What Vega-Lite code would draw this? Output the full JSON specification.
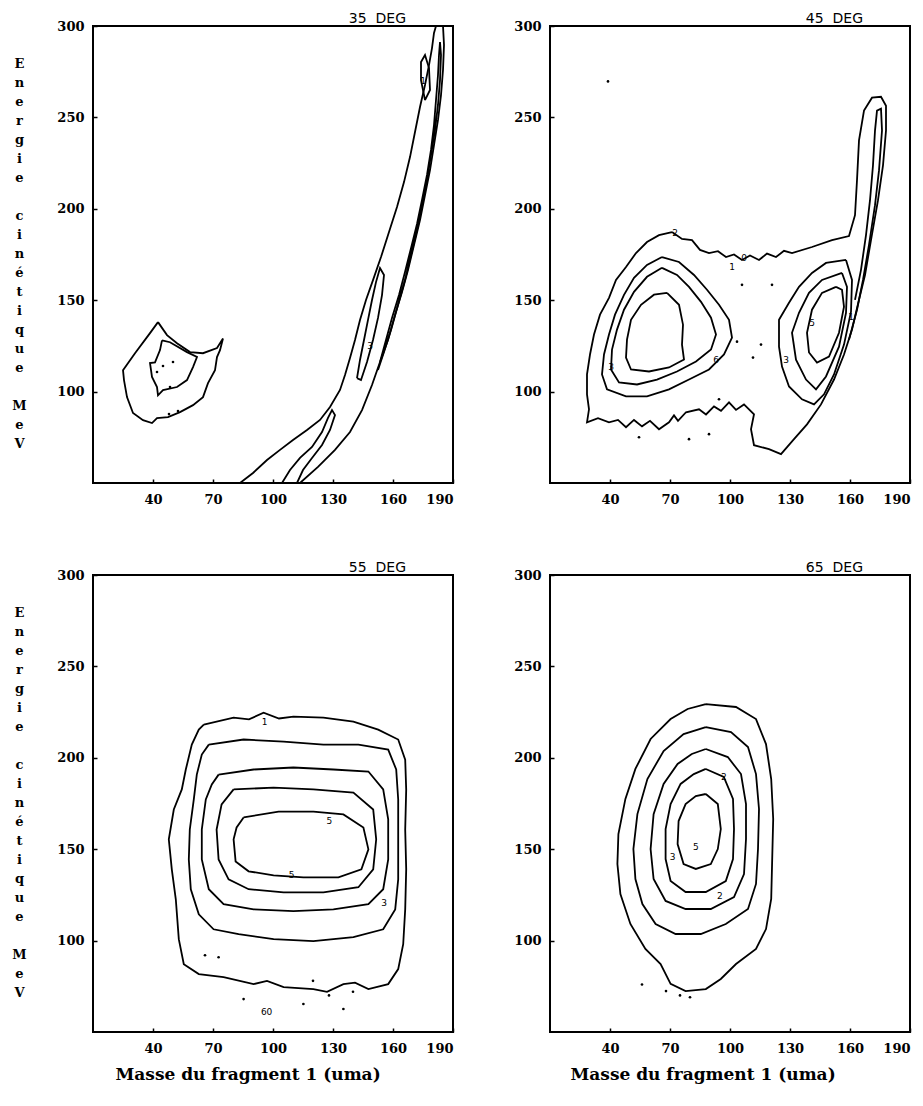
{
"$schema":"https://vega.github.io/schema/vega-lite/v6.json",
"background":"white",
"padding":{"left":10,"top":11,"right":5,"bottom":5},
"config":{
 "view":{"stroke":"black","strokeWidth":2},
 "axis":{"grid":false,"domain":false,"tickColor":"black","tickWidth":1.5,"tickSize":-4,"labelColor":"black","labelFont":"DejaVu Serif","labelFontWeight":"bold","labelFontSize":13,"titleColor":"black","titleFont":"DejaVu Serif","titleFontWeight":"bold"},
 "axisX":{"labelPadding":14},
 "axisY":{"labelPadding":13},
 "title":{"font":"DejaVu Sans","fontSize":14,"fontWeight":"normal","anchor":"end","frame":"group","dx":-47,"offset":-6,"color":"black"}
},
"datasets":{
"lines":[
{"p":"35","c":"i1","x":42.5,"y":138},{"p":"35","c":"i1","x":38.5,"y":132},{"p":"35","c":"i1","x":31,"y":121},{"p":"35","c":"i1","x":25,"y":111.7},{"p":"35","c":"i1","x":25.5,"y":106.3},{"p":"35","c":"i1","x":27,"y":97},{"p":"35","c":"i1","x":30,"y":88.3},{"p":"35","c":"i1","x":35,"y":84.4},{"p":"35","c":"i1","x":39.5,"y":82.8},{"p":"35","c":"i1","x":42,"y":85.5},{"p":"35","c":"i1","x":47.5,"y":86},{"p":"35","c":"i1","x":53.5,"y":88.8},{"p":"35","c":"i1","x":60,"y":92.6},{"p":"35","c":"i1","x":65,"y":97},{"p":"35","c":"i1","x":67.5,"y":104.6},{"p":"35","c":"i1","x":71,"y":111.7},{"p":"35","c":"i1","x":72,"y":118.9},{"p":"35","c":"i1","x":73.5,"y":122.7},{"p":"35","c":"i1","x":75,"y":129},{"p":"35","c":"i1","x":72,"y":123.8},{"p":"35","c":"i1","x":65,"y":121},{"p":"35","c":"i1","x":58.5,"y":121.6},{"p":"35","c":"i1","x":52,"y":126.5},{"p":"35","c":"i1","x":47,"y":130.9},{"p":"35","c":"i1","x":42.5,"y":138},
{"p":"35","c":"i2","x":44.5,"y":128},{"p":"35","c":"i2","x":48.5,"y":127},{"p":"35","c":"i2","x":57,"y":121.6},{"p":"35","c":"i2","x":62,"y":118.9},{"p":"35","c":"i2","x":60,"y":113.4},{"p":"35","c":"i2","x":57,"y":106.3},{"p":"35","c":"i2","x":52,"y":102.5},{"p":"35","c":"i2","x":45,"y":100.8},{"p":"35","c":"i2","x":42.5,"y":98},{"p":"35","c":"i2","x":42,"y":102.5},{"p":"35","c":"i2","x":39.5,"y":108},{"p":"35","c":"i2","x":38.5,"y":115.6},{"p":"35","c":"i2","x":41,"y":116},{"p":"35","c":"i2","x":43.5,"y":122.7},{"p":"35","c":"i2","x":44.5,"y":128},
{"p":"35","c":"b1","x":83.5,"y":50},{"p":"35","c":"b1","x":90,"y":55.5},{"p":"35","c":"b1","x":97,"y":62.6},{"p":"35","c":"b1","x":103.5,"y":68.1},{"p":"35","c":"b1","x":110,"y":73.5},{"p":"35","c":"b1","x":117,"y":79},{"p":"35","c":"b1","x":123.5,"y":84.5},{"p":"35","c":"b1","x":128.5,"y":91.6},{"p":"35","c":"b1","x":133.5,"y":100.9},{"p":"35","c":"b1","x":136,"y":109.1},{"p":"35","c":"b1","x":138.5,"y":118.4},{"p":"35","c":"b1","x":141,"y":128.2},{"p":"35","c":"b1","x":143.5,"y":139.2},{"p":"35","c":"b1","x":146.5,"y":150.1},{"p":"35","c":"b1","x":150,"y":161},{"p":"35","c":"b1","x":154,"y":173.6},{"p":"35","c":"b1","x":158,"y":187.3},{"p":"35","c":"b1","x":162,"y":201},{"p":"35","c":"b1","x":165.5,"y":214.6},{"p":"35","c":"b1","x":168.5,"y":228.3},{"p":"35","c":"b1","x":171,"y":242},{"p":"35","c":"b1","x":173.5,"y":255.7},{"p":"35","c":"b1","x":176,"y":267.7},{"p":"35","c":"b1","x":178,"y":278.6},{"p":"35","c":"b1","x":179.5,"y":287.9},{"p":"35","c":"b1","x":180.5,"y":296.2},{"p":"35","c":"b1","x":181.5,"y":300},{"p":"35","c":"b1","x":185,"y":300},{"p":"35","c":"b1","x":185.5,"y":289.6},{"p":"35","c":"b1","x":185,"y":275.9},{"p":"35","c":"b1","x":184,"y":262.2},{"p":"35","c":"b1","x":182.5,"y":248.6},{"p":"35","c":"b1","x":180.5,"y":234.9},{"p":"35","c":"b1","x":178.5,"y":221.2},{"p":"35","c":"b1","x":176,"y":207.5},{"p":"35","c":"b1","x":173.5,"y":193.9},{"p":"35","c":"b1","x":170.5,"y":180.2},{"p":"35","c":"b1","x":167.5,"y":166.5},{"p":"35","c":"b1","x":164.5,"y":154.5},{"p":"35","c":"b1","x":161,"y":141.9},{"p":"35","c":"b1","x":157.5,"y":128.2},{"p":"35","c":"b1","x":153.5,"y":116.2},{"p":"35","c":"b1","x":149.5,"y":103.6},{"p":"35","c":"b1","x":144.5,"y":89.9},{"p":"35","c":"b1","x":138.5,"y":77.9},{"p":"35","c":"b1","x":131,"y":68.1},{"p":"35","c":"b1","x":122.5,"y":58.8},{"p":"35","c":"b1","x":113.5,"y":50},
{"p":"35","c":"b2","x":104.5,"y":50},{"p":"35","c":"b2","x":108.5,"y":57.1},{"p":"35","c":"b2","x":113.5,"y":63.7},{"p":"35","c":"b2","x":119.5,"y":69.7},{"p":"35","c":"b2","x":124.5,"y":77.9},{"p":"35","c":"b2","x":127.5,"y":85.6},{"p":"35","c":"b2","x":129.5,"y":89.9},{"p":"35","c":"b2","x":131,"y":87.2},{"p":"35","c":"b2","x":128.5,"y":79},{"p":"35","c":"b2","x":124.5,"y":70.8},{"p":"35","c":"b2","x":119.5,"y":63.7},{"p":"35","c":"b2","x":115,"y":57.1},{"p":"35","c":"b2","x":112,"y":50},
{"p":"35","c":"b3","x":142,"y":107.4},{"p":"35","c":"b3","x":143.5,"y":117.3},{"p":"35","c":"b3","x":145.5,"y":128.2},{"p":"35","c":"b3","x":147.5,"y":139.2},{"p":"35","c":"b3","x":149.5,"y":150.1},{"p":"35","c":"b3","x":151.5,"y":159.9},{"p":"35","c":"b3","x":153.5,"y":167.6},{"p":"35","c":"b3","x":155.5,"y":163.8},{"p":"35","c":"b3","x":154.5,"y":152.8},{"p":"35","c":"b3","x":152.5,"y":140.3},{"p":"35","c":"b3","x":150,"y":128.2},{"p":"35","c":"b3","x":147,"y":116.2},{"p":"35","c":"b3","x":144,"y":106.3},{"p":"35","c":"b3","x":142,"y":107.4},
{"p":"35","c":"b4","x":153.5,"y":116.2},{"p":"35","c":"b4","x":156.5,"y":128.2},{"p":"35","c":"b4","x":159.5,"y":140.3},{"p":"35","c":"b4","x":163,"y":152.8},{"p":"35","c":"b4","x":166,"y":165.4},{"p":"35","c":"b4","x":169,"y":178.5},{"p":"35","c":"b4","x":172,"y":191.7},{"p":"35","c":"b4","x":174.5,"y":204.8},{"p":"35","c":"b4","x":177,"y":218.5},{"p":"35","c":"b4","x":179,"y":232.2},{"p":"35","c":"b4","x":180.5,"y":245.8},{"p":"35","c":"b4","x":181.5,"y":259.5},{"p":"35","c":"b4","x":182.5,"y":273.2},{"p":"35","c":"b4","x":183,"y":284.1},{"p":"35","c":"b4","x":183.5,"y":291.2},{"p":"35","c":"b4","x":184,"y":284.1},{"p":"35","c":"b4","x":183.5,"y":270.4},{"p":"35","c":"b4","x":182.5,"y":256.8},{"p":"35","c":"b4","x":181,"y":243.1},{"p":"35","c":"b4","x":179,"y":229.4},{"p":"35","c":"b4","x":177,"y":215.7},{"p":"35","c":"b4","x":174.5,"y":202.1},{"p":"35","c":"b4","x":172,"y":188.4},{"p":"35","c":"b4","x":169,"y":174.7},{"p":"35","c":"b4","x":166,"y":161},{"p":"35","c":"b4","x":162.5,"y":147.4},{"p":"35","c":"b4","x":159,"y":133.7},{"p":"35","c":"b4","x":155.5,"y":121.7},{"p":"35","c":"b4","x":152.5,"y":111.8},
{"p":"35","c":"b5","x":176,"y":259.5},{"p":"35","c":"b5","x":174,"y":270.4},{"p":"35","c":"b5","x":174,"y":280.3},{"p":"35","c":"b5","x":176,"y":284.1},{"p":"35","c":"b5","x":178,"y":277},{"p":"35","c":"b5","x":178.5,"y":265},{"p":"35","c":"b5","x":176,"y":259.5},
{"p":"45","c":"o","x":71,"y":187.3},{"p":"45","c":"o","x":76,"y":183.5},{"p":"45","c":"o","x":81,"y":182.9},{"p":"45","c":"o","x":85,"y":177.5},{"p":"45","c":"o","x":89.5,"y":175.8},{"p":"45","c":"o","x":94,"y":176.8},{"p":"45","c":"o","x":98,"y":173.6},{"p":"45","c":"o","x":102,"y":175},{"p":"45","c":"o","x":106,"y":172},{"p":"45","c":"o","x":110,"y":174.5},{"p":"45","c":"o","x":114.5,"y":172},{"p":"45","c":"o","x":118.5,"y":175.5},{"p":"45","c":"o","x":123,"y":173.6},{"p":"45","c":"o","x":127,"y":177},{"p":"45","c":"o","x":131,"y":175.8},{"p":"45","c":"o","x":141,"y":179.1},{"p":"45","c":"o","x":151,"y":182.9},{"p":"45","c":"o","x":159.5,"y":185.1},{"p":"45","c":"o","x":162.5,"y":196.5},{"p":"45","c":"o","x":163.5,"y":215.6},{"p":"45","c":"o","x":164.5,"y":237.4},{"p":"45","c":"o","x":167,"y":253.7},{"p":"45","c":"o","x":171,"y":260.8},{"p":"45","c":"o","x":175.5,"y":261.3},{"p":"45","c":"o","x":178,"y":256.4},{"p":"45","c":"o","x":178,"y":242.8},{"p":"45","c":"o","x":176.5,"y":223.8},{"p":"45","c":"o","x":174,"y":204.7},{"p":"45","c":"o","x":170.5,"y":182.9},{"p":"45","c":"o","x":167.5,"y":163.8},{"p":"45","c":"o","x":164.5,"y":150.2},{"p":"45","c":"o","x":161,"y":133.9},{"p":"45","c":"o","x":157,"y":120.3},{"p":"45","c":"o","x":152,"y":106.6},{"p":"45","c":"o","x":145.5,"y":93},{"p":"45","c":"o","x":138.5,"y":82.1},{"p":"45","c":"o","x":132,"y":74},{"p":"45","c":"o","x":125.5,"y":65.8},{"p":"45","c":"o","x":119.5,"y":68.5},{"p":"45","c":"o","x":112,"y":70.7},{"p":"45","c":"o","x":110.5,"y":79.4},{"p":"45","c":"o","x":112,"y":87.6},{"p":"45","c":"o","x":107,"y":93},{"p":"45","c":"o","x":103,"y":90},{"p":"45","c":"o","x":99.5,"y":94.1},{"p":"45","c":"o","x":95.5,"y":89.5},{"p":"45","c":"o","x":92,"y":91.9},{"p":"45","c":"o","x":88,"y":87.5},{"p":"45","c":"o","x":84.5,"y":90.3},{"p":"45","c":"o","x":78,"y":88.7},{"p":"45","c":"o","x":74,"y":84},{"p":"45","c":"o","x":72,"y":87},{"p":"45","c":"o","x":69.5,"y":83.2},{"p":"45","c":"o","x":64.5,"y":79.4},{"p":"45","c":"o","x":60,"y":84},{"p":"45","c":"o","x":56,"y":81},{"p":"45","c":"o","x":52,"y":84.5},{"p":"45","c":"o","x":48,"y":80.5},{"p":"45","c":"o","x":44,"y":84.5},{"p":"45","c":"o","x":39.5,"y":83.2},{"p":"45","c":"o","x":34,"y":85.5},{"p":"45","c":"o","x":28.5,"y":83.2},{"p":"45","c":"o","x":29.5,"y":90.3},{"p":"45","c":"o","x":28.5,"y":98.5},{"p":"45","c":"o","x":28.5,"y":109.4},{"p":"45","c":"o","x":30,"y":120.3},{"p":"45","c":"o","x":32,"y":131.2},{"p":"45","c":"o","x":35,"y":142.1},{"p":"45","c":"o","x":39.5,"y":151.3},{"p":"45","c":"o","x":43,"y":161.1},{"p":"45","c":"o","x":48,"y":168.2},{"p":"45","c":"o","x":53,"y":175.8},{"p":"45","c":"o","x":58.5,"y":181.8},{"p":"45","c":"o","x":64.5,"y":185.6},{"p":"45","c":"o","x":71,"y":187.3},
{"p":"45","c":"la","x":66,"y":173.6},{"p":"45","c":"la","x":74.5,"y":170.9},{"p":"45","c":"la","x":82,"y":163.8},{"p":"45","c":"la","x":88.5,"y":155.7},{"p":"45","c":"la","x":94.5,"y":147.5},{"p":"45","c":"la","x":99.5,"y":139.3},{"p":"45","c":"la","x":101,"y":129.5},{"p":"45","c":"la","x":97,"y":120.3},{"p":"45","c":"la","x":89.5,"y":112.1},{"p":"45","c":"la","x":79.5,"y":106.6},{"p":"45","c":"la","x":69.5,"y":101.2},{"p":"45","c":"la","x":58.5,"y":97.4},{"p":"45","c":"la","x":48,"y":97.4},{"p":"45","c":"la","x":38.5,"y":101.2},{"p":"45","c":"la","x":36,"y":109.4},{"p":"45","c":"la","x":37,"y":120.3},{"p":"45","c":"la","x":39.5,"y":131.2},{"p":"45","c":"la","x":42.5,"y":142.1},{"p":"45","c":"la","x":47,"y":152.9},{"p":"45","c":"la","x":52,"y":162.2},{"p":"45","c":"la","x":58.5,"y":169.3},{"p":"45","c":"la","x":66,"y":173.6},
{"p":"45","c":"lb","x":66,"y":167.7},{"p":"45","c":"lb","x":73.5,"y":163.8},{"p":"45","c":"lb","x":79.5,"y":157.3},{"p":"45","c":"lb","x":85.5,"y":149.1},{"p":"45","c":"lb","x":90.5,"y":140.4},{"p":"45","c":"lb","x":93,"y":131.2},{"p":"45","c":"lb","x":90.5,"y":123},{"p":"45","c":"lb","x":83,"y":116.5},{"p":"45","c":"lb","x":73.5,"y":111},{"p":"45","c":"lb","x":63.5,"y":106.6},{"p":"45","c":"lb","x":53.5,"y":103.9},{"p":"45","c":"lb","x":44.5,"y":105},{"p":"45","c":"lb","x":40.5,"y":112.1},{"p":"45","c":"lb","x":41,"y":123},{"p":"45","c":"lb","x":43.5,"y":133.9},{"p":"45","c":"lb","x":47,"y":144.8},{"p":"45","c":"lb","x":52,"y":154.6},{"p":"45","c":"lb","x":58.5,"y":162.8},{"p":"45","c":"lb","x":66,"y":167.7},
{"p":"45","c":"lc","x":68.5,"y":154},{"p":"45","c":"lc","x":74.5,"y":147.5},{"p":"45","c":"lc","x":76.5,"y":136.6},{"p":"45","c":"lc","x":76,"y":125.7},{"p":"45","c":"lc","x":77,"y":117.5},{"p":"45","c":"lc","x":69.5,"y":113.2},{"p":"45","c":"lc","x":59.5,"y":111},{"p":"45","c":"lc","x":50.5,"y":112.1},{"p":"45","c":"lc","x":48,"y":118.6},{"p":"45","c":"lc","x":48.5,"y":128.4},{"p":"45","c":"lc","x":50.5,"y":139.3},{"p":"45","c":"lc","x":55.5,"y":147.5},{"p":"45","c":"lc","x":62,"y":153},{"p":"45","c":"lc","x":68.5,"y":154},
{"p":"45","c":"ra","x":158,"y":172},{"p":"45","c":"ra","x":148,"y":170.4},{"p":"45","c":"ra","x":141,"y":164.9},{"p":"45","c":"ra","x":134.5,"y":157.3},{"p":"45","c":"ra","x":129.5,"y":148.6},{"p":"45","c":"ra","x":124.5,"y":139.3},{"p":"45","c":"ra","x":124.5,"y":124.6},{"p":"45","c":"ra","x":126,"y":113.7},{"p":"45","c":"ra","x":129.5,"y":102.8},{"p":"45","c":"ra","x":136,"y":95.8},{"p":"45","c":"ra","x":142,"y":93},{"p":"45","c":"ra","x":147,"y":98.5},{"p":"45","c":"ra","x":152,"y":109.4},{"p":"45","c":"ra","x":157,"y":125.7},{"p":"45","c":"ra","x":160.5,"y":143.7},{"p":"45","c":"ra","x":161,"y":161.1},{"p":"45","c":"ra","x":158,"y":172},
{"p":"45","c":"rb","x":156,"y":164.9},{"p":"45","c":"rb","x":146,"y":161.1},{"p":"45","c":"rb","x":139.5,"y":154},{"p":"45","c":"rb","x":134.5,"y":143.1},{"p":"45","c":"rb","x":131,"y":132.2},{"p":"45","c":"rb","x":133,"y":117.5},{"p":"45","c":"rb","x":138,"y":106.6},{"p":"45","c":"rb","x":143,"y":101.2},{"p":"45","c":"rb","x":148,"y":108.3},{"p":"45","c":"rb","x":154.5,"y":124.6},{"p":"45","c":"rb","x":158,"y":143.1},{"p":"45","c":"rb","x":158.5,"y":157.3},{"p":"45","c":"rb","x":156,"y":164.9},
{"p":"45","c":"rc","x":153,"y":157.3},{"p":"45","c":"rc","x":146,"y":154},{"p":"45","c":"rc","x":141,"y":144.8},{"p":"45","c":"rc","x":138.5,"y":132.2},{"p":"45","c":"rc","x":139.5,"y":121.4},{"p":"45","c":"rc","x":143.5,"y":115.9},{"p":"45","c":"rc","x":149.5,"y":119.2},{"p":"45","c":"rc","x":154.5,"y":132.2},{"p":"45","c":"rc","x":157,"y":146.4},{"p":"45","c":"rc","x":156,"y":155.7},{"p":"45","c":"rc","x":153,"y":157.3},
{"p":"45","c":"t","x":162.5,"y":150.2},{"p":"45","c":"t","x":165.5,"y":166.6},{"p":"45","c":"t","x":168,"y":185.6},{"p":"45","c":"t","x":170,"y":204.7},{"p":"45","c":"t","x":171.5,"y":223.8},{"p":"45","c":"t","x":172.5,"y":242.8},{"p":"45","c":"t","x":173.5,"y":253.7},{"p":"45","c":"t","x":175.5,"y":254.8},{"p":"45","c":"t","x":176,"y":242.8},{"p":"45","c":"t","x":174.5,"y":221},{"p":"45","c":"t","x":172.5,"y":202},{"p":"45","c":"t","x":169.5,"y":180.2},{"p":"45","c":"t","x":166.5,"y":161.1},{"p":"45","c":"t","x":163.5,"y":144.8},{"p":"45","c":"t","x":159.5,"y":128.4},
{"p":"55","c":"c1","x":65.4,"y":218.1},{"p":"55","c":"c1","x":80.3,"y":222},{"p":"55","c":"c1","x":88,"y":221},{"p":"55","c":"c1","x":95.3,"y":224.7},{"p":"55","c":"c1","x":103,"y":221.5},{"p":"55","c":"c1","x":110.2,"y":222.5},{"p":"55","c":"c1","x":125.2,"y":222},{"p":"55","c":"c1","x":140.2,"y":219.8},{"p":"55","c":"c1","x":152.6,"y":215.4},{"p":"55","c":"c1","x":162.6,"y":210},{"p":"55","c":"c1","x":166.1,"y":199},{"p":"55","c":"c1","x":166.6,"y":182.7},{"p":"55","c":"c1","x":166.1,"y":160.8},{"p":"55","c":"c1","x":166.6,"y":139},{"p":"55","c":"c1","x":166.1,"y":117.1},{"p":"55","c":"c1","x":165.1,"y":98},{"p":"55","c":"c1","x":162.6,"y":84.4},{"p":"55","c":"c1","x":157.6,"y":76.2},{"p":"55","c":"c1","x":147.7,"y":73.5},{"p":"55","c":"c1","x":141,"y":77},{"p":"55","c":"c1","x":135.2,"y":76.2},{"p":"55","c":"c1","x":127,"y":72},{"p":"55","c":"c1","x":120.2,"y":73.5},{"p":"55","c":"c1","x":105.3,"y":74.6},{"p":"55","c":"c1","x":97,"y":78},{"p":"55","c":"c1","x":90.3,"y":76.2},{"p":"55","c":"c1","x":75.3,"y":80},{"p":"55","c":"c1","x":62.9,"y":81.7},{"p":"55","c":"c1","x":55.4,"y":87.1},{"p":"55","c":"c1","x":52.9,"y":100.8},{"p":"55","c":"c1","x":51.4,"y":122.6},{"p":"55","c":"c1","x":49.4,"y":139},{"p":"55","c":"c1","x":47.9,"y":155.4},{"p":"55","c":"c1","x":50.4,"y":171.7},{"p":"55","c":"c1","x":54.4,"y":182.7},{"p":"55","c":"c1","x":56.4,"y":193.6},{"p":"55","c":"c1","x":59.4,"y":207.2},{"p":"55","c":"c1","x":62.9,"y":215.4},{"p":"55","c":"c1","x":65.4,"y":218.1},
{"p":"55","c":"c2","x":67.9,"y":207.2},{"p":"55","c":"c2","x":85.3,"y":210},{"p":"55","c":"c2","x":105.3,"y":208.9},{"p":"55","c":"c2","x":125.2,"y":207.2},{"p":"55","c":"c2","x":142.7,"y":207.2},{"p":"55","c":"c2","x":157.6,"y":204.5},{"p":"55","c":"c2","x":161.6,"y":193.6},{"p":"55","c":"c2","x":162.6,"y":177.2},{"p":"55","c":"c2","x":162.6,"y":155.4},{"p":"55","c":"c2","x":162.6,"y":133.5},{"p":"55","c":"c2","x":161.1,"y":117.1},{"p":"55","c":"c2","x":155.1,"y":106.2},{"p":"55","c":"c2","x":140.2,"y":101.9},{"p":"55","c":"c2","x":120.2,"y":99.7},{"p":"55","c":"c2","x":100.3,"y":100.8},{"p":"55","c":"c2","x":82.8,"y":103.5},{"p":"55","c":"c2","x":70.3,"y":106.2},{"p":"55","c":"c2","x":62.9,"y":114.4},{"p":"55","c":"c2","x":58.9,"y":128.1},{"p":"55","c":"c2","x":57.9,"y":144.4},{"p":"55","c":"c2","x":58.4,"y":160.8},{"p":"55","c":"c2","x":60.4,"y":177.2},{"p":"55","c":"c2","x":61.9,"y":190.8},{"p":"55","c":"c2","x":64.4,"y":201.8},{"p":"55","c":"c2","x":67.9,"y":207.2},
{"p":"55","c":"c3","x":72.8,"y":190.8},{"p":"55","c":"c3","x":90.3,"y":193.6},{"p":"55","c":"c3","x":110.2,"y":194.7},{"p":"55","c":"c3","x":130.2,"y":193.6},{"p":"55","c":"c3","x":147.7,"y":192.5},{"p":"55","c":"c3","x":155.1,"y":182.7},{"p":"55","c":"c3","x":157.6,"y":166.3},{"p":"55","c":"c3","x":157.6,"y":144.4},{"p":"55","c":"c3","x":155.1,"y":128.1},{"p":"55","c":"c3","x":147.7,"y":119.9},{"p":"55","c":"c3","x":130.2,"y":117.1},{"p":"55","c":"c3","x":110.2,"y":116.1},{"p":"55","c":"c3","x":90.3,"y":117.1},{"p":"55","c":"c3","x":75.3,"y":119.9},{"p":"55","c":"c3","x":67.9,"y":128.1},{"p":"55","c":"c3","x":64.4,"y":144.4},{"p":"55","c":"c3","x":64.4,"y":160.8},{"p":"55","c":"c3","x":66.4,"y":177.2},{"p":"55","c":"c3","x":69.4,"y":185.4},{"p":"55","c":"c3","x":72.8,"y":190.8},
{"p":"55","c":"c4","x":80.3,"y":182.7},{"p":"55","c":"c4","x":100.3,"y":183.7},{"p":"55","c":"c4","x":120.2,"y":182.7},{"p":"55","c":"c4","x":140.2,"y":181},{"p":"55","c":"c4","x":150.1,"y":171.7},{"p":"55","c":"c4","x":151.6,"y":155.4},{"p":"55","c":"c4","x":150.1,"y":139},{"p":"55","c":"c4","x":142.7,"y":129.2},{"p":"55","c":"c4","x":125.2,"y":126.4},{"p":"55","c":"c4","x":105.3,"y":126.4},{"p":"55","c":"c4","x":87.8,"y":128.1},{"p":"55","c":"c4","x":77.8,"y":133.5},{"p":"55","c":"c4","x":72.8,"y":144.4},{"p":"55","c":"c4","x":71.8,"y":160.8},{"p":"55","c":"c4","x":74.3,"y":174.5},{"p":"55","c":"c4","x":80.3,"y":182.7},
{"p":"55","c":"c5","x":85.3,"y":167.4},{"p":"55","c":"c5","x":102.8,"y":170.6},{"p":"55","c":"c5","x":120.2,"y":170.6},{"p":"55","c":"c5","x":135.2,"y":169},{"p":"55","c":"c5","x":145.2,"y":161.9},{"p":"55","c":"c5","x":147.7,"y":149.9},{"p":"55","c":"c5","x":144.2,"y":139},{"p":"55","c":"c5","x":132.7,"y":134.6},{"p":"55","c":"c5","x":115.2,"y":134.6},{"p":"55","c":"c5","x":100.3,"y":135.7},{"p":"55","c":"c5","x":87.8,"y":137.9},{"p":"55","c":"c5","x":81.3,"y":143.3},{"p":"55","c":"c5","x":80.3,"y":155.4},{"p":"55","c":"c5","x":81.8,"y":161.9},{"p":"55","c":"c5","x":85.3,"y":167.4},
{"p":"65","c":"c1","x":87.9,"y":229.4},{"p":"65","c":"c1","x":103,"y":227.8},{"p":"65","c":"c1","x":113,"y":221.2},{"p":"65","c":"c1","x":118,"y":207.5},{"p":"65","c":"c1","x":120.6,"y":188.4},{"p":"65","c":"c1","x":121.6,"y":166.5},{"p":"65","c":"c1","x":121.1,"y":144.6},{"p":"65","c":"c1","x":120.6,"y":122.8},{"p":"65","c":"c1","x":118,"y":106.3},{"p":"65","c":"c1","x":113,"y":95.4},{"p":"65","c":"c1","x":103,"y":87.2},{"p":"65","c":"c1","x":95.4,"y":79},{"p":"65","c":"c1","x":87.9,"y":73.5},{"p":"65","c":"c1","x":77.8,"y":72.4},{"p":"65","c":"c1","x":70.3,"y":76.3},{"p":"65","c":"c1","x":65.3,"y":87.2},{"p":"65","c":"c1","x":57.7,"y":95.4},{"p":"65","c":"c1","x":50.2,"y":109.1},{"p":"65","c":"c1","x":45.2,"y":125.5},{"p":"65","c":"c1","x":43.7,"y":141.9},{"p":"65","c":"c1","x":44.2,"y":158.3},{"p":"65","c":"c1","x":47.7,"y":177.5},{"p":"65","c":"c1","x":52.7,"y":193.9},{"p":"65","c":"c1","x":60.3,"y":210.3},{"p":"65","c":"c1","x":70.3,"y":221.2},{"p":"65","c":"c1","x":78.8,"y":226.7},{"p":"65","c":"c1","x":87.9,"y":229.4},
{"p":"65","c":"c2","x":87.9,"y":216.8},{"p":"65","c":"c2","x":100.5,"y":214.1},{"p":"65","c":"c2","x":109,"y":205.9},{"p":"65","c":"c2","x":113,"y":191.1},{"p":"65","c":"c2","x":114.5,"y":172},{"p":"65","c":"c2","x":114,"y":150.1},{"p":"65","c":"c2","x":113,"y":131},{"p":"65","c":"c2","x":109,"y":117.3},{"p":"65","c":"c2","x":97.9,"y":109.1},{"p":"65","c":"c2","x":85.4,"y":103.6},{"p":"65","c":"c2","x":72.8,"y":103.6},{"p":"65","c":"c2","x":62.8,"y":109.1},{"p":"65","c":"c2","x":56.2,"y":120},{"p":"65","c":"c2","x":52.7,"y":133.7},{"p":"65","c":"c2","x":51.7,"y":150.1},{"p":"65","c":"c2","x":53.7,"y":169.2},{"p":"65","c":"c2","x":58.7,"y":188.4},{"p":"65","c":"c2","x":66.8,"y":203.7},{"p":"65","c":"c2","x":76.8,"y":213},{"p":"65","c":"c2","x":87.9,"y":216.8},
{"p":"65","c":"c3","x":87.9,"y":204.8},{"p":"65","c":"c3","x":98.9,"y":200.4},{"p":"65","c":"c3","x":105.5,"y":191.1},{"p":"65","c":"c3","x":108,"y":174.7},{"p":"65","c":"c3","x":108,"y":155.6},{"p":"65","c":"c3","x":107,"y":136.4},{"p":"65","c":"c3","x":102,"y":123.8},{"p":"65","c":"c3","x":90.4,"y":117.3},{"p":"65","c":"c3","x":77.8,"y":117.3},{"p":"65","c":"c3","x":67.8,"y":121.7},{"p":"65","c":"c3","x":61.8,"y":133.7},{"p":"65","c":"c3","x":60.3,"y":150.1},{"p":"65","c":"c3","x":61.8,"y":169.2},{"p":"65","c":"c3","x":66.8,"y":185.7},{"p":"65","c":"c3","x":73.8,"y":196.6},{"p":"65","c":"c3","x":80.9,"y":202.1},{"p":"65","c":"c3","x":87.9,"y":204.8},
{"p":"65","c":"c4","x":87.9,"y":193.9},{"p":"65","c":"c4","x":96.9,"y":189.5},{"p":"65","c":"c4","x":101.5,"y":177.5},{"p":"65","c":"c4","x":102,"y":161},{"p":"65","c":"c4","x":101.5,"y":144.6},{"p":"65","c":"c4","x":97.9,"y":132.6},{"p":"65","c":"c4","x":87.9,"y":126.6},{"p":"65","c":"c4","x":77.8,"y":126.6},{"p":"65","c":"c4","x":70.3,"y":132.6},{"p":"65","c":"c4","x":67.8,"y":144.6},{"p":"65","c":"c4","x":67.8,"y":161},{"p":"65","c":"c4","x":70.3,"y":174.7},{"p":"65","c":"c4","x":75.3,"y":185.7},{"p":"65","c":"c4","x":81.9,"y":191.1},{"p":"65","c":"c4","x":87.9,"y":193.9},
{"p":"65","c":"c5","x":87.9,"y":180.2},{"p":"65","c":"c5","x":93.9,"y":174.7},{"p":"65","c":"c5","x":95.4,"y":161},{"p":"65","c":"c5","x":93.9,"y":150.1},{"p":"65","c":"c5","x":90.4,"y":141.9},{"p":"65","c":"c5","x":82.9,"y":139.2},{"p":"65","c":"c5","x":76.8,"y":141.9},{"p":"65","c":"c5","x":73.8,"y":152.8},{"p":"65","c":"c5","x":74.3,"y":165.4},{"p":"65","c":"c5","x":77.8,"y":174.7},{"p":"65","c":"c5","x":82.9,"y":179.1},{"p":"65","c":"c5","x":87.9,"y":180.2}
],
"labs":[
{"p":"35","x":175,"y":270,"t":"1"},{"p":"35","x":148.5,"y":125,"t":"3"},
{"p":"45","x":72.5,"y":186.5,"t":"2"},{"p":"45","x":101,"y":168,"t":"1"},{"p":"45","x":107,"y":173,"t":"0"},{"p":"45","x":40.5,"y":113.7,"t":"3"},{"p":"45","x":93,"y":117.5,"t":"6"},{"p":"45","x":141,"y":137.7,"t":"5"},{"p":"45","x":128,"y":117.5,"t":"3"},{"p":"45","x":160.5,"y":141,"t":"1"},
{"p":"55","x":95.8,"y":219.8,"t":"1"},{"p":"55","x":128.2,"y":165.2,"t":"5"},{"p":"55","x":109.3,"y":135.7,"t":"5"},{"p":"55","x":155.6,"y":120.4,"t":"3"},{"p":"55","x":96.8,"y":60.9,"t":"60"},
{"p":"65","x":96.9,"y":189.5,"t":"2"},{"p":"65","x":82.9,"y":151.2,"t":"5"},{"p":"65","x":71.3,"y":145.7,"t":"3"},{"p":"65","x":94.9,"y":124.4,"t":"2"}
],
"dots":[
{"p":"35","x":50,"y":116.2},{"p":"35","x":45,"y":114},{"p":"35","x":42,"y":110.7},{"p":"35","x":48.5,"y":102.5},{"p":"35","x":48,"y":87.7},{"p":"35","x":52.5,"y":89.4},
{"p":"45","x":39,"y":269.7},{"p":"45","x":106,"y":158.4},{"p":"45","x":121,"y":158.4},{"p":"45","x":103.5,"y":127.3},{"p":"45","x":115.5,"y":125.7},{"p":"45","x":111.5,"y":118.6},{"p":"45","x":94.5,"y":95.8},{"p":"45","x":54.5,"y":75},{"p":"45","x":79.5,"y":74},{"p":"45","x":89.5,"y":76.7},
{"p":"55","x":72.8,"y":90.9},{"p":"55","x":85.3,"y":68},{"p":"55","x":115.2,"y":65.3},{"p":"55","x":135.2,"y":62.6},{"p":"55","x":66,"y":92},{"p":"55","x":120,"y":78},{"p":"55","x":128,"y":70},{"p":"55","x":140,"y":72},
{"p":"65","x":56,"y":76},{"p":"65","x":68,"y":72.4},{"p":"65","x":75,"y":70},{"p":"65","x":80,"y":69}
]
},
"columns":2,
"spacing":{"row":92,"column":97},
"bounds":"flush",
"concat":[
{"width":360,"height":457,"title":{"text":"35\u00a0\u00a0DEG"},
 "layer":[
 {"data":{"name":"lines"},"transform":[{"filter":"datum.p=='35'"}],"mark":{"type":"line","color":"black","strokeWidth":1.8,"clip":true},
  "encoding":{"x":{"field":"x","type":"quantitative","scale":{"domain":[10,190],"nice":false,"zero":false},"axis":{"values":[40,70,100,130,160,190],"title":null}},
   "y":{"field":"y","type":"quantitative","scale":{"domain":[50,300],"nice":false,"zero":false},"axis":{"values":[100,150,200,250,300],"title":["E","n","e","r","g","i","e","\u2800","c","i","n","é","t","i","q","u","e","\u2800","M","e","V"],"titleAngle":0,"titleX":-74,"titleY":31,"titleAlign":"center","titleBaseline":"top","titleLineHeight":19,"titleFontSize":13}},
   "detail":{"field":"c"},"order":{"value":null}}},
 {"data":{"name":"labs"},"transform":[{"filter":"datum.p=='35'"}],"mark":{"type":"text","font":"DejaVu Sans","fontSize":9,"color":"black"},
  "encoding":{"x":{"field":"x","type":"quantitative"},"y":{"field":"y","type":"quantitative"},"text":{"field":"t"}}},
 {"data":{"name":"dots"},"transform":[{"filter":"datum.p=='35'"}],"mark":{"type":"point","filled":true,"size":7,"color":"black","opacity":1},
  "encoding":{"x":{"field":"x","type":"quantitative"},"y":{"field":"y","type":"quantitative"}}}
 ]},
{"width":360,"height":457,"title":{"text":"45\u00a0\u00a0DEG"},
 "layer":[
 {"data":{"name":"lines"},"transform":[{"filter":"datum.p=='45'"}],"mark":{"type":"line","color":"black","strokeWidth":1.8,"clip":true},
  "encoding":{"x":{"field":"x","type":"quantitative","scale":{"domain":[10,190],"nice":false,"zero":false},"axis":{"values":[40,70,100,130,160,190],"title":null}},
   "y":{"field":"y","type":"quantitative","scale":{"domain":[50,300],"nice":false,"zero":false},"axis":{"values":[100,150,200,250,300],"title":null}},
   "detail":{"field":"c"},"order":{"value":null}}},
 {"data":{"name":"labs"},"transform":[{"filter":"datum.p=='45'"}],"mark":{"type":"text","font":"DejaVu Sans","fontSize":9,"color":"black"},
  "encoding":{"x":{"field":"x","type":"quantitative"},"y":{"field":"y","type":"quantitative"},"text":{"field":"t"}}},
 {"data":{"name":"dots"},"transform":[{"filter":"datum.p=='45'"}],"mark":{"type":"point","filled":true,"size":7,"color":"black","opacity":1},
  "encoding":{"x":{"field":"x","type":"quantitative"},"y":{"field":"y","type":"quantitative"}}}
 ]},
{"width":360,"height":457,"title":{"text":"55\u00a0\u00a0DEG"},
 "layer":[
 {"data":{"name":"lines"},"transform":[{"filter":"datum.p=='55'"}],"mark":{"type":"line","color":"black","strokeWidth":1.8,"clip":true},
  "encoding":{"x":{"field":"x","type":"quantitative","scale":{"domain":[10,190],"nice":false,"zero":false},"axis":{"values":[40,70,100,130,160,190],"title":"Masse du fragment 1 (uma)","titleFontSize":17,"titleAlign":"left","titleAnchor":"start","titleX":22,"titleY":42,"titleBaseline":"middle"}},
   "y":{"field":"y","type":"quantitative","scale":{"domain":[50,300],"nice":false,"zero":false},"axis":{"values":[100,150,200,250,300],"title":["E","n","e","r","g","i","e","\u2800","c","i","n","é","t","i","q","u","e","\u2800","M","e","V"],"titleAngle":0,"titleX":-74,"titleY":31,"titleAlign":"center","titleBaseline":"top","titleLineHeight":19,"titleFontSize":13}},
   "detail":{"field":"c"},"order":{"value":null}}},
 {"data":{"name":"labs"},"transform":[{"filter":"datum.p=='55'"}],"mark":{"type":"text","font":"DejaVu Sans","fontSize":9,"color":"black"},
  "encoding":{"x":{"field":"x","type":"quantitative"},"y":{"field":"y","type":"quantitative"},"text":{"field":"t"}}},
 {"data":{"name":"dots"},"transform":[{"filter":"datum.p=='55'"}],"mark":{"type":"point","filled":true,"size":7,"color":"black","opacity":1},
  "encoding":{"x":{"field":"x","type":"quantitative"},"y":{"field":"y","type":"quantitative"}}}
 ]},
{"width":360,"height":457,"title":{"text":"65\u00a0\u00a0DEG"},
 "layer":[
 {"data":{"name":"lines"},"transform":[{"filter":"datum.p=='65'"}],"mark":{"type":"line","color":"black","strokeWidth":1.8,"clip":true},
  "encoding":{"x":{"field":"x","type":"quantitative","scale":{"domain":[10,190],"nice":false,"zero":false},"axis":{"values":[40,70,100,130,160,190],"title":"Masse du fragment 1 (uma)","titleFontSize":17,"titleAlign":"left","titleAnchor":"start","titleX":20,"titleY":42,"titleBaseline":"middle"}},
   "y":{"field":"y","type":"quantitative","scale":{"domain":[50,300],"nice":false,"zero":false},"axis":{"values":[100,150,200,250,300],"title":null}},
   "detail":{"field":"c"},"order":{"value":null}}},
 {"data":{"name":"labs"},"transform":[{"filter":"datum.p=='65'"}],"mark":{"type":"text","font":"DejaVu Sans","fontSize":9,"color":"black"},
  "encoding":{"x":{"field":"x","type":"quantitative"},"y":{"field":"y","type":"quantitative"},"text":{"field":"t"}}},
 {"data":{"name":"dots"},"transform":[{"filter":"datum.p=='65'"}],"mark":{"type":"point","filled":true,"size":7,"color":"black","opacity":1},
  "encoding":{"x":{"field":"x","type":"quantitative"},"y":{"field":"y","type":"quantitative"}}}
 ]}
]
}
